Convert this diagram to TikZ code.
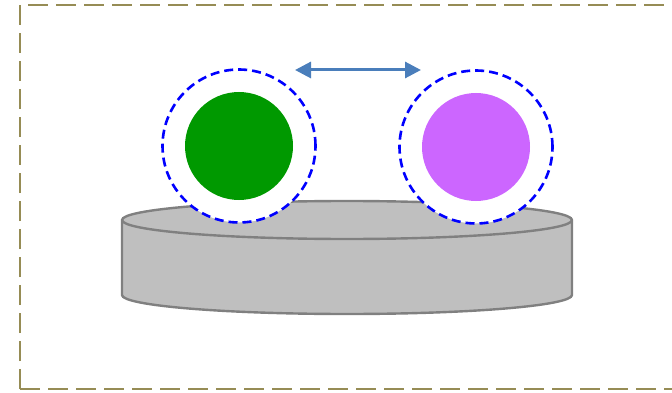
\documentclass[tikz,border=0pt]{standalone}
\usepackage{tikz}
\usetikzlibrary{arrows.meta}
\usetikzlibrary{calc}

\definecolor{frameolive}{RGB}{150,140,85}
\definecolor{diskfill}{RGB}{191,191,191}
\definecolor{diskline}{RGB}{128,128,128}
\definecolor{ballgreen}{RGB}{0,153,0}
\definecolor{ballpurple}{RGB}{204,102,255}
\definecolor{arrowblue}{RGB}{74,126,187}

\begin{document}
\begin{tikzpicture}[x=1pt,y=-1pt,
  ring/.style={circle, draw=blue, fill=white, line width=2.6pt, dash pattern=on 9pt off 5pt, minimum size=153pt, inner sep=0pt},
  ball/.style={circle, minimum size=108pt, inner sep=0pt},
  disk/.style={fill=diskfill, draw=diskline, line width=2.4pt}]

\useasboundingbox (0,0) rectangle (672,393);
\draw[frameolive, line width=2.6pt, dash pattern=on 20pt off 8pt] (20,389) -- (20,5) -- (700,5);
\draw[frameolive, line width=2.6pt, dash pattern=on 20pt off 8pt] (20,389) -- (700,389);

% the disk
\filldraw[disk] (122,220) -- (122,295) arc[start angle=180, end angle=0, x radius=225, y radius=19]
  -- (572,220) arc[start angle=0, end angle=-180, x radius=225, y radius=19] -- cycle;
\draw[disk, fill=none] (122,220) arc[start angle=180, end angle=0, x radius=225, y radius=19];

% the two balls
\node[ring] (ringL) at (239,146) {};
\node[ring] (ringR) at (476,147) {};
\node[ball, fill=ballgreen] (greenball) at (ringL) {};
\node[ball, fill=ballpurple] (purpleball) at (ringR) {};

\coordinate (arrowL) at (295,70);
\coordinate (arrowR) at (421,70);
\draw[arrowblue, line width=3pt, {Triangle[length=16pt,width=16pt]}-{Triangle[length=16pt,width=16pt]}] (arrowL) -- (arrowR);

\end{tikzpicture}
\end{document}
